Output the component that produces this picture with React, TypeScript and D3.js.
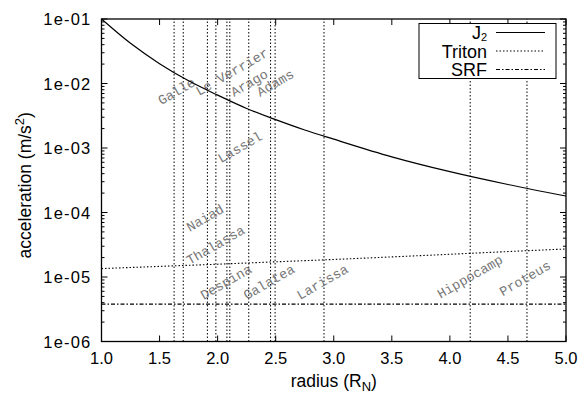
import React, { useRef, useEffect } from "react";
import * as d3 from "d3";

// radius in Neptune radii, acceleration in m/s^2
const j2Radius = [1.0, 1.25, 1.5, 1.75, 2.0, 2.25, 2.5, 2.75, 3.0, 3.5, 4.0, 4.5, 5.0];
const j2Accel = [1.0e-1, 4.2e-2, 2.03e-2, 1.1e-2, 6.6e-3, 4.1e-3, 2.75e-3, 1.9e-3, 1.37e-3, 7.3e-4, 4.3e-4, 2.72e-4, 1.8e-4];

const tritonRadius = [1.0, 1.5, 2.0, 2.5, 3.0, 3.5, 4.0, 4.5, 5.0];
const tritonAccel = [1.35e-5, 1.46e-5, 1.58e-5, 1.72e-5, 1.87e-5, 2.05e-5, 2.25e-5, 2.48e-5, 2.72e-5];

const srfRadius = [1.0, 5.0];
const srfAccel = [3.8e-6, 3.8e-6];

// ring edges and moon orbits (vertical dotted lines)
const featureRadius = [1.625, 1.704, 1.912, 1.985, 2.08, 2.105, 2.268, 2.456, 2.495, 2.916, 4.175, 4.664];

const labelNames = ["Galle", "Le Verrier", "Arago", "Adams", "Lassel", "Naiad", "Thalassa", "Despina", "Galatea", "Larissa", "Hippocamp", "Proteus"];
const labelRadius = [1.515, 1.84, 2.14, 2.365, 2.03, 1.76, 1.76, 1.88, 2.25, 2.71, 3.92, 4.455];
const labelAccel = [4.6e-3, 6.4e-3, 6.2e-3, 6.2e-3, 5.8e-4, 5.0e-5, 1.53e-5, 4.4e-6, 4.4e-6, 4.4e-6, 4.6e-6, 5.0e-6];

const xTicks = [1.0, 1.5, 2.0, 2.5, 3.0, 3.5, 4.0, 4.5, 5.0];
const xTickLabels = ["1.0", "1.5", "2.0", "2.5", "3.0", "3.5", "4.0", "4.5", "5.0"];
const yTicks = [1e-6, 1e-5, 1e-4, 1e-3, 1e-2, 1e-1];
const yTickLabels = ["1e-06", "1e-05", "1e-04", "1e-03", "1e-02", "1e-01"];

const legendNames = ["J", "Triton", "SRF"];
const legendDash = [null, "1.5,2", "4,2,1.5,2"];

const W = 581, H = 398;
const margin = { top: 19, right: 15, bottom: 56.5, left: 101.5 };
const sans = "'Liberation Sans', Arial, Helvetica, sans-serif";
const mono = "'Liberation Mono', 'Courier New', monospace";

const App = () => {
  const ref = useRef(null);

  useEffect(() => {
    const svg = d3.select(ref.current);
    svg.selectAll("*").remove();

    const x = d3.scaleLinear().domain([1, 5]).range([margin.left, W - margin.right]);
    const y = d3.scaleLog().domain([1e-6, 1e-1]).range([H - margin.bottom, margin.top]);
    const [x0, x1] = x.range();
    const [y0, y1] = y.range();

    const line = d3.line().x((d) => x(d[0])).y((d) => y(d[1]));

    // vertical feature lines
    svg.append("g").selectAll("line")
      .data(featureRadius)
      .enter().append("line")
      .attr("x1", (d) => x(d)).attr("x2", (d) => x(d))
      .attr("y1", y0).attr("y2", y1)
      .attr("stroke", "#000").attr("stroke-width", 1)
      .attr("stroke-dasharray", "1.5,2");

    // labels
    svg.append("g").selectAll("text")
      .data(labelNames)
      .enter().append("text")
      .attr("transform", (d, i) => `translate(${x(labelRadius[i])},${y(labelAccel[i])}) rotate(-30)`)
      .attr("font-family", mono).attr("font-size", 13.5)
      .attr("fill", "#777")
      .text((d) => d);

    // curves
    svg.append("path")
      .datum(j2Radius.map((r, i) => [r, j2Accel[i]]))
      .attr("d", line.curve(d3.curveMonotoneX))
      .attr("fill", "none").attr("stroke", "#000").attr("stroke-width", 1.2);

    svg.append("path")
      .datum(tritonRadius.map((r, i) => [r, tritonAccel[i]]))
      .attr("d", line.curve(d3.curveMonotoneX))
      .attr("fill", "none").attr("stroke", "#000").attr("stroke-width", 1.1)
      .attr("stroke-dasharray", legendDash[1]);

    svg.append("path")
      .datum(srfRadius.map((r, i) => [r, srfAccel[i]]))
      .attr("d", line.curve(d3.curveLinear))
      .attr("fill", "none").attr("stroke", "#000").attr("stroke-width", 1.1)
      .attr("stroke-dasharray", legendDash[2]);

    // ticks (inward, mirrored)
    const ticks = svg.append("g").attr("stroke", "#000").attr("stroke-width", 1);
    xTicks.forEach((t) => {
      ticks.append("line").attr("x1", x(t)).attr("x2", x(t)).attr("y1", y0).attr("y2", y0 - 6);
      ticks.append("line").attr("x1", x(t)).attr("x2", x(t)).attr("y1", y1).attr("y2", y1 + 6);
    });
    const minor = [];
    yTicks.slice(0, -1).forEach((t) => { for (let k = 2; k < 10; k++) minor.push(t * k); });
    yTicks.forEach((t) => {
      ticks.append("line").attr("x1", x0).attr("x2", x0 + 6).attr("y1", y(t)).attr("y2", y(t));
      ticks.append("line").attr("x1", x1).attr("x2", x1 - 6).attr("y1", y(t)).attr("y2", y(t));
    });
    minor.forEach((t) => {
      ticks.append("line").attr("x1", x0).attr("x2", x0 + 3).attr("y1", y(t)).attr("y2", y(t));
      ticks.append("line").attr("x1", x1).attr("x2", x1 - 3).attr("y1", y(t)).attr("y2", y(t));
    });

    // tick labels
    svg.append("g").selectAll("text")
      .data(xTicks)
      .enter().append("text")
      .attr("x", (d) => x(d)).attr("y", y0 + 22)
      .attr("text-anchor", "middle")
      .attr("font-family", sans).attr("font-size", 16.5)
      .text((d, i) => xTickLabels[i]);

    svg.append("g").selectAll("text")
      .data(yTicks)
      .enter().append("text")
      .attr("x", x0 - 10).attr("y", (d) => y(d) + 6)
      .attr("text-anchor", "end")
      .attr("font-family", sans).attr("font-size", 16.5)
      .attr("letter-spacing", 1.2)
      .text((d, i) => yTickLabels[i]);

    // axis titles
    const xt = svg.append("text")
      .attr("x", (x0 + x1) / 2).attr("y", 387)
      .attr("text-anchor", "middle")
      .attr("font-family", sans).attr("font-size", 17.5);
    xt.append("tspan").text("radius (R");
    xt.append("tspan").attr("font-size", 13).attr("dy", 4).text("N");
    xt.append("tspan").attr("dy", -4).text(")");

    const yt = svg.append("text")
      .attr("transform", `translate(31,${(y0 + y1) / 2 + 5}) rotate(-90)`)
      .attr("text-anchor", "middle")
      .attr("font-family", sans).attr("font-size", 17.5);
    yt.append("tspan").text("acceleration (m/s");
    yt.append("tspan").attr("font-size", 13).attr("dy", -7).text("2");
    yt.append("tspan").attr("dy", 7).text(")");

    // legend
    const lg = svg.append("g");
    lg.append("rect")
      .attr("x", 419).attr("y", 23.5).attr("width", 137).attr("height", 55)
      .attr("fill", "#fff").attr("stroke", "#000").attr("stroke-width", 1);
    legendNames.forEach((name, i) => {
      const cy = 32.5 + i * 18.5;
      const t = lg.append("text")
        .attr("x", 487).attr("y", cy + 6.5)
        .attr("text-anchor", "end")
        .attr("font-family", sans).attr("font-size", 18);
      t.append("tspan").text(name);
      if (i === 0) t.append("tspan").attr("font-size", 11).attr("dy", 1.5).text("2");
      const l = lg.append("line")
        .attr("x1", 496).attr("x2", 545).attr("y1", cy).attr("y2", cy)
        .attr("stroke", "#000").attr("stroke-width", i === 0 ? 1.2 : 1.1);
      if (legendDash[i]) l.attr("stroke-dasharray", legendDash[i]);
    });

    // frame
    svg.append("rect")
      .attr("x", x0).attr("y", y1).attr("width", x1 - x0).attr("height", y0 - y1)
      .attr("fill", "none").attr("stroke", "#000").attr("stroke-width", 1.3);
  }, []);

  return (
    <svg ref={ref} width={W} height={H}
      style={{ position: "absolute", left: 0, top: 0, background: "#fff" }} />
  );
};

export default App;
